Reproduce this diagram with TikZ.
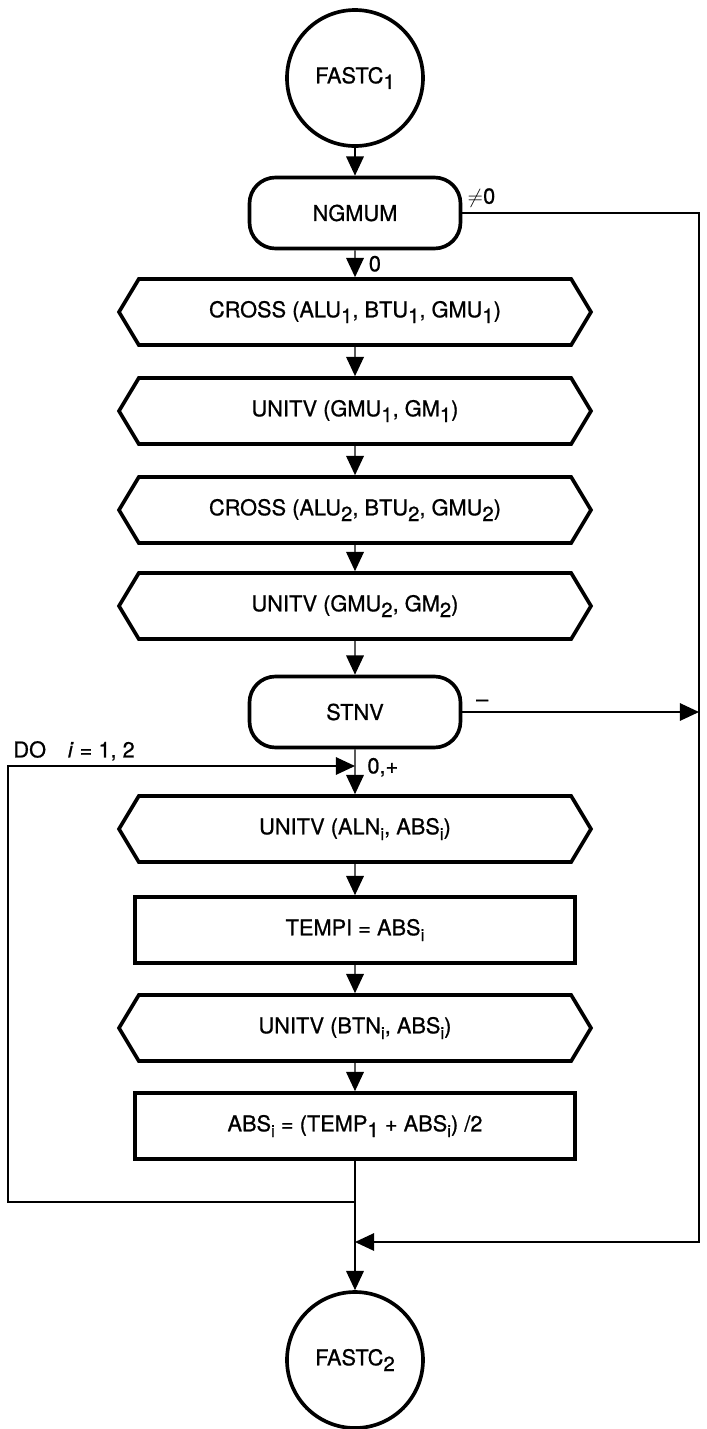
\documentclass[tikz,border=0pt]{standalone}
\usepackage{fontspec}
\setmainfont{TeX Gyre Heros}[FakeBold=0.8]
\usetikzlibrary{arrows.meta,shapes.symbols}
\newcommand{\lo}[1]{\raisebox{-0.5ex}{\fontsize{14.5}{15}\selectfont #1}}
\newcommand{\ix}{\raisebox{-0.5ex}{\fontsize{12}{13}\selectfont i}}

\begin{document}
\begin{tikzpicture}[>={Triangle[length=4.8mm,width=4.4mm]}, line width=1pt,
    font=\fontsize{15.5}{18}\selectfont,
    term/.style={draw, circle, line width=2.6pt, minimum size=3.4cm, inner sep=0pt},
    decide/.style={draw, rectangle, rounded corners=0.65cm, line width=2.6pt,
                   minimum width=5.275cm, minimum height=1.775cm},
    call/.style={draw, signal, signal to=west and east, signal pointer angle=118,
                 line width=2.6pt, minimum width=11.8cm, minimum height=1.65cm, inner sep=0pt},
    assign/.style={draw, rectangle, line width=2.6pt, minimum width=11cm, minimum height=1.65cm}]

\useasboundingbox (-8.875,0) rectangle (8.8,-35.725);

% Ana akis (dikey)
\node[term]   (F1)    at (0, -1.95)   {FASTC\lo{1}};
\node[decide] (NGMUM) at (0, -5.325)  {NGMUM};
\node[call]   (C1)    at (0, -7.8)    {CROSS (ALU\lo{1}, BTU\lo{1}, GMU\lo{1})};
\node[call]   (U1)    at (0, -10.275) {UNITV (GMU\lo{1}, GM\lo{1})};
\node[call]   (C2)    at (0, -12.75)  {CROSS (ALU\lo{2}, BTU\lo{2}, GMU\lo{2})};
\node[call]   (U2)    at (0, -15.15)  {UNITV (GMU\lo{2}, GM\lo{2})};
\node[decide] (STNV)  at (0, -17.8)   {STNV};
\node[call]   (UA)    at (0, -20.725) {UNITV (ALN\ix, ABS\ix)};
\node[assign] (TEMPI) at (0, -23.25)  {TEMPI = ABS\ix};
\node[call]   (UB)    at (0, -25.7)   {UNITV (BTN\ix, ABS\ix)};
\node[assign] (ABS)   at (0, -28.15)  {ABS\ix{} = (TEMP\lo{1} + ABS\ix) /2};
\node[term]   (F2)    at (0, -34)     {FASTC\lo{2}};

% Dongu ve birlesme noktalari
\coordinate (loopin) at (0, -19.15);
\coordinate (loopL)  at (-8.675, -19.15);
\coordinate (back)   at (0, -30.05);
\coordinate (merge)  at (0, -31.05);
\coordinate (rc)     at (8.6, -31.05);

\draw[->] (F1) -- (NGMUM);
\draw[->] (NGMUM) -- node[right=6pt] {0} (C1);
\draw[->] (C1) -- (U1);
\draw[->] (U1) -- (C2);
\draw[->] (C2) -- (U2);
\draw[->] (U2) -- (STNV);
\draw[->] (STNV) -- node[right=5pt, pos=0.4] {0,+} (UA);
\draw[->] (UA) -- (TEMPI);
\draw[->] (TEMPI) -- (UB);
\draw[->] (UB) -- (ABS);
\draw[->] (ABS) -- (F2);

% Sag taraf: atlama yolu
\draw[->] (NGMUM.east) node[above right] {$\neq$0} -| (rc) -- (merge);
\draw[->] (STNV.east) node[above right, xshift=6pt] {\textendash} -- (STNV.east -| rc);

% Sol taraf: DO dongusu
\draw[->] (back) -| (loopL) node[above right] {DO\quad\textit{i} = 1, 2} -- (loopin);

\end{tikzpicture}
\end{document}
